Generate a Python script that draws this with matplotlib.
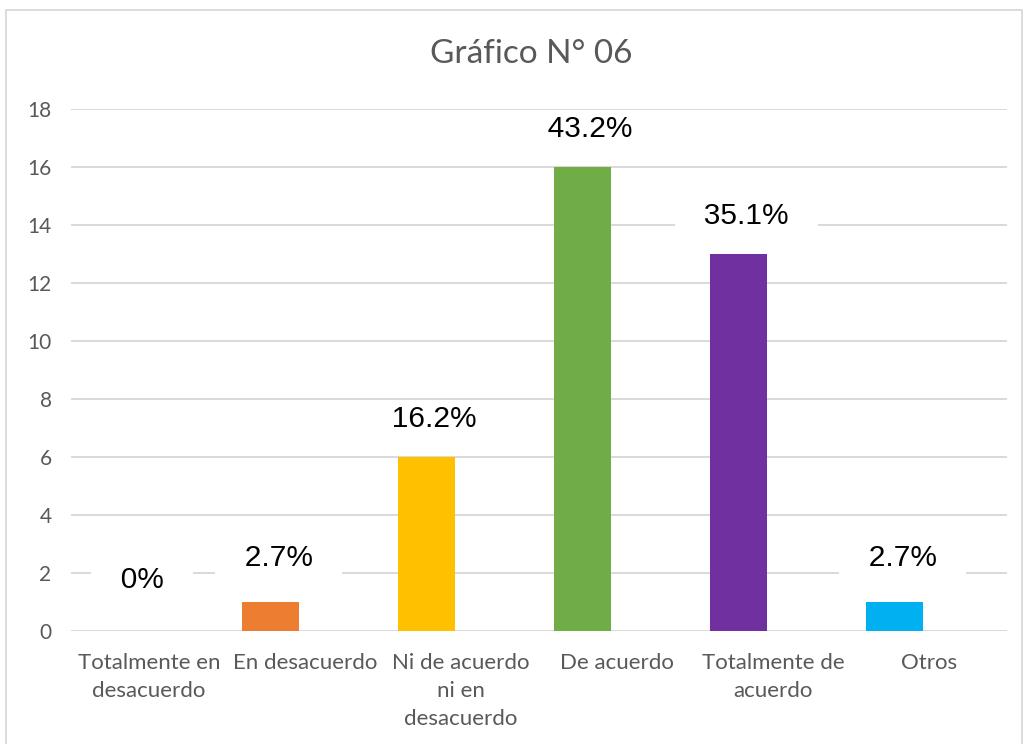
import matplotlib.pyplot as plt
from matplotlib.patches import Rectangle

# Datos del grafico
categorias = ['Totalmente en\ndesacuerdo', 'En desacuerdo', 'Ni de acuerdo\nni en\ndesacuerdo',
              'De acuerdo', 'Totalmente de\nacuerdo', 'Otros']
valores = [0, 1, 6, 16, 13, 1]
etiquetas = ['0%', '2.7%', '16.2%', '43.2%', '35.1%', '2.7%']
colores = ['#4472C4', '#ED7D31', '#FFC000', '#70AD47', '#7030A0', '#00B0F0']

gris = '#595959'
fig = plt.figure(figsize=(10.29, 7.44), dpi=100)
ax = fig.add_axes([0.069, 0.1519, 0.9096, 0.7016])

# borde del grafico
fig.patches.append(Rectangle((6/1029, -0.01), 1016/1029, 1 - 10/744 + 0.01,
                             transform=fig.transFigure, fill=False,
                             edgecolor='#D9D9D9', linewidth=1.3))

pos = [i - 0.22 for i in range(len(valores))]
ax.bar(pos, valores, width=0.365, color=colores, zorder=2)

ax.set_ylim(0, 18)
ax.set_xlim(-0.5, len(valores) - 0.5)
ax.set_yticks(range(0, 19, 2))
ax.yaxis.grid(True, color='#D9D9D9', linewidth=1.4, zorder=0)
ax.set_axisbelow(True)
for s in ax.spines.values():
    s.set_visible(False)
ax.tick_params(length=0)
ax.tick_params(axis='y', labelsize=15, labelcolor=gris, pad=14)
ax.tick_params(axis='x', labelsize=16, labelcolor=gris, pad=16)
ax.set_xticks(range(len(categorias)))
ax.set_xticklabels(categorias, fontfamily='Lato', linespacing=1.5)
for t in ax.get_yticklabels():
    t.set_fontfamily('Lato')

# etiquetas de porcentaje
for i, (x, v, e) in enumerate(zip(pos, valores, etiquetas)):
    lx = x + 0.05
    dy = 27
    if v == 0:
        lx = i - 0.045
        dy = 37
    elif v < 2:
        dy = 32
    ax.annotate('   ' + e + '   ', (lx, v), xytext=(0, dy), textcoords='offset points',
                ha='center', va='center', fontsize=21.5, fontfamily='Liberation Sans',
                color='black', zorder=3,
                bbox=dict(boxstyle='square,pad=0.15', facecolor='white', edgecolor='none'))

fig.text(0.516, 0.928, 'Gráfico N° 06', ha='center', va='center', fontsize=24,
         fontfamily='Lato', color=gris)

fig.savefig('out.png', dpi=100)
